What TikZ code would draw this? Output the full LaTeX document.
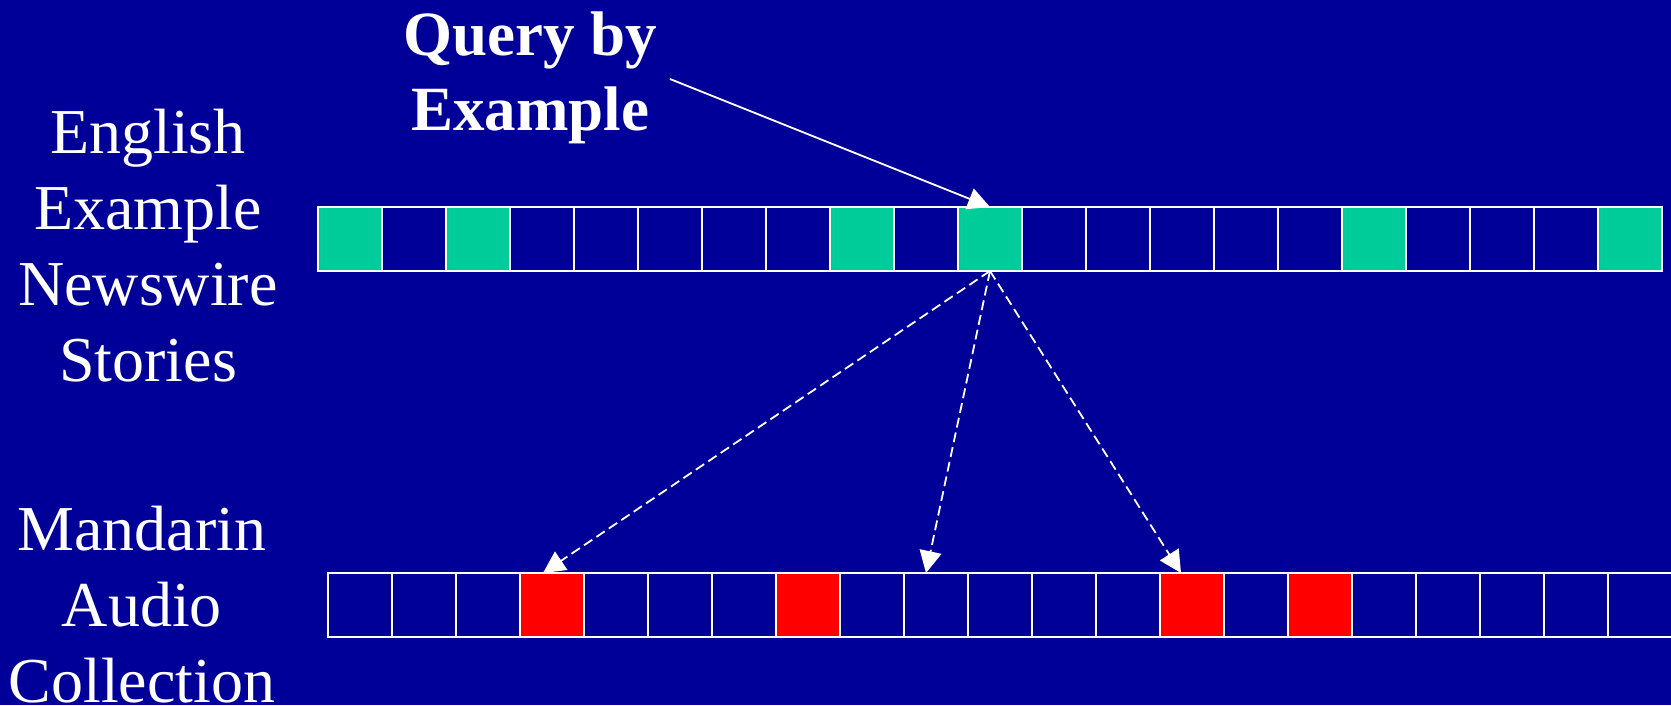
\documentclass[tikz,border=0pt]{standalone}
\usepackage{fontspec}
\setmainfont{Liberation Serif}
\usetikzlibrary{arrows.meta,calc}
\definecolor{slideblue}{HTML}{000099}
\definecolor{hitgreen}{HTML}{00CC99}
\definecolor{hitred}{HTML}{FF0000}
\tikzset{
  cell/.style={draw=white, line width=1.8pt, fill=slideblue, minimum width=64pt,
    minimum height=64pt, inner sep=0pt, outer sep=0pt},
  hit/.style={fill=hitgreen},
  match/.style={fill=hitred},
  label/.style={text=white, align=center, anchor=base, inner sep=0pt,
    font=\fontsize{64}{76}\selectfont},
  tip/.style={-{Triangle[length=22pt,width=22pt]}},
  link/.style={white, line width=1.8pt, tip},
  guess/.style={white, line width=1.8pt, tip, dash pattern=on 10pt off 5pt}
}
\begin{document}
\begin{tikzpicture}[x=1pt,y=-1pt]
  \fill[slideblue] (0,0) rectangle (1671,705);
  \useasboundingbox (0,0) rectangle (1671,705);

  % top row: English newswire stories
  \foreach \i in {1,...,21} {
    \node[cell] (t\i) at ({350+64*(\i-1)},239) {};
  }
  \foreach \i in {1,3,9,11,17,21} {
    \node[cell,hit] at (t\i) {};
  }

  % bottom row: Mandarin audio collection
  \foreach \i in {1,...,21} {
    \node[cell] (b\i) at ({360+64*(\i-1)},605) {};
  }
  \foreach \i in {4,8,14,16} {
    \node[cell,match] at (b\i) {};
  }

  % labels (base anchor sits on the last line)
  \node[label] (eng) at (148,381) {English\\Example\\Newswire\\Stories};
  \node[label] (man) at (142,702) {Mandarin\\Audio\\Collection};
  \node[label, font=\fontsize{63}{75}\selectfont\bfseries] (qbe) at (530,130) {Query by\\Example};

  % query arrow
  \coordinate (qstart) at (670,79);
  \draw[link] (qstart) -- (t11.north);

  % retrieved matches
  \draw[guess] (t11.south) -- ([xshift=23pt]b4.north west);
  \draw[guess] (t11.south) -- ([xshift=22pt]b10.north west);
  \draw[guess] (t11.south) -- ([xshift=21pt]b14.north west);
\end{tikzpicture}
\end{document}
